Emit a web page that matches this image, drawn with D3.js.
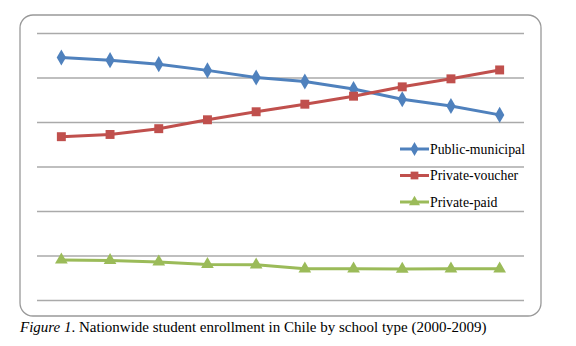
<!DOCTYPE html>
<html><head><meta charset="utf-8">
<script src="https://cdn.jsdelivr.net/npm/d3@7/dist/d3.min.js"></script>
<style>body{margin:0;background:#fff}svg{display:block}</style>
</head><body>
<svg id="c" width="576" height="346"></svg>
<script>
const years = ["2000","2001","2002","2003","2004","2005","2006","2007","2008","2009"];
const publicMunicipal = [54.5, 53.9, 53.0, 51.6, 50.0, 49.1, 47.4, 45.1, 43.6, 41.6];
const privateVoucher = [36.7, 37.2, 38.5, 40.5, 42.3, 44.0, 45.8, 47.9, 49.7, 51.7];
const privatePaid = [9.0, 8.9, 8.55, 8.0, 7.9, 7.0, 7.0, 6.95, 7.0, 7.0];
const yTicks = [0, 10, 20, 30, 40, 50, 60];
const seriesNames = ["Public-municipal", "Private-voucher", "Private-paid"];

const svg = d3.select("#c");
const x = d3.scaleBand().domain(years).range([37, 524]);
const y = d3.scaleLinear().domain([0, 60]).range([300, 33]);

svg.append("rect").attr("x", 20).attr("y", 15).attr("width", 521).attr("height", 301)
  .attr("rx", 13).attr("fill", "#fff").attr("stroke", "#999").attr("stroke-width", 1.3);

const ax = svg.append("g").attr("transform", "translate(37,0)")
  .call(d3.axisLeft(y).tickValues(yTicks).tickSize(-487).tickFormat(""));
ax.select(".domain").remove();
ax.selectAll(".tick line").attr("stroke", "#aaa").attr("stroke-width", 1.5);

const series = [
  {name: seriesNames[0], values: publicMunicipal, color: "#4F81BD", sym: d3.symbolDiamond, size: 75},
  {name: seriesNames[1], values: privateVoucher, color: "#C0504D", sym: d3.symbolSquare, size: 80},
  {name: seriesNames[2], values: privatePaid, color: "#9BBB59", sym: d3.symbolTriangle, size: 70}
];
const cx = d => x(d) + x.bandwidth() / 2;
const line = d3.line().x((d, i) => cx(years[i])).y(d => y(d));

series.forEach(s => {
  svg.append("path").datum(s.values).attr("d", line).attr("fill", "none")
    .attr("stroke", s.color).attr("stroke-width", 3).attr("stroke-linejoin", "round");
  svg.selectAll(null).data(s.values).enter().append("path")
    .attr("d", d3.symbol(s.sym, s.size))
    .attr("transform", (d, i) => `translate(${cx(years[i])},${y(d)})`)
    .attr("fill", s.color);
});

const lg = svg.append("g");
series.forEach((s, i) => {
  const ly = 149 + i * 26.5;
  lg.append("line").attr("x1", 400).attr("x2", 429).attr("y1", ly).attr("y2", ly)
    .attr("stroke", s.color).attr("stroke-width", 3);
  lg.append("path").attr("d", d3.symbol(s.sym, s.size * 0.75)).attr("transform", `translate(414.5,${ly})`).attr("fill", s.color);
  lg.append("text").attr("x", 430).attr("y", ly + 4.5).text(s.name)
    .attr("font-family", "Liberation Serif").attr("font-size", 13.8).attr("fill", "#000");
});

const cap = svg.append("text").attr("x", 20).attr("y", 332)
  .attr("font-family", "Liberation Serif").attr("font-size", 15).attr("fill", "#000");
cap.append("tspan").attr("font-style", "italic").text("Figure 1");
cap.append("tspan").text(". Nationwide student enrollment in Chile by school type (2000-2009)");
</script>
</body></html>
